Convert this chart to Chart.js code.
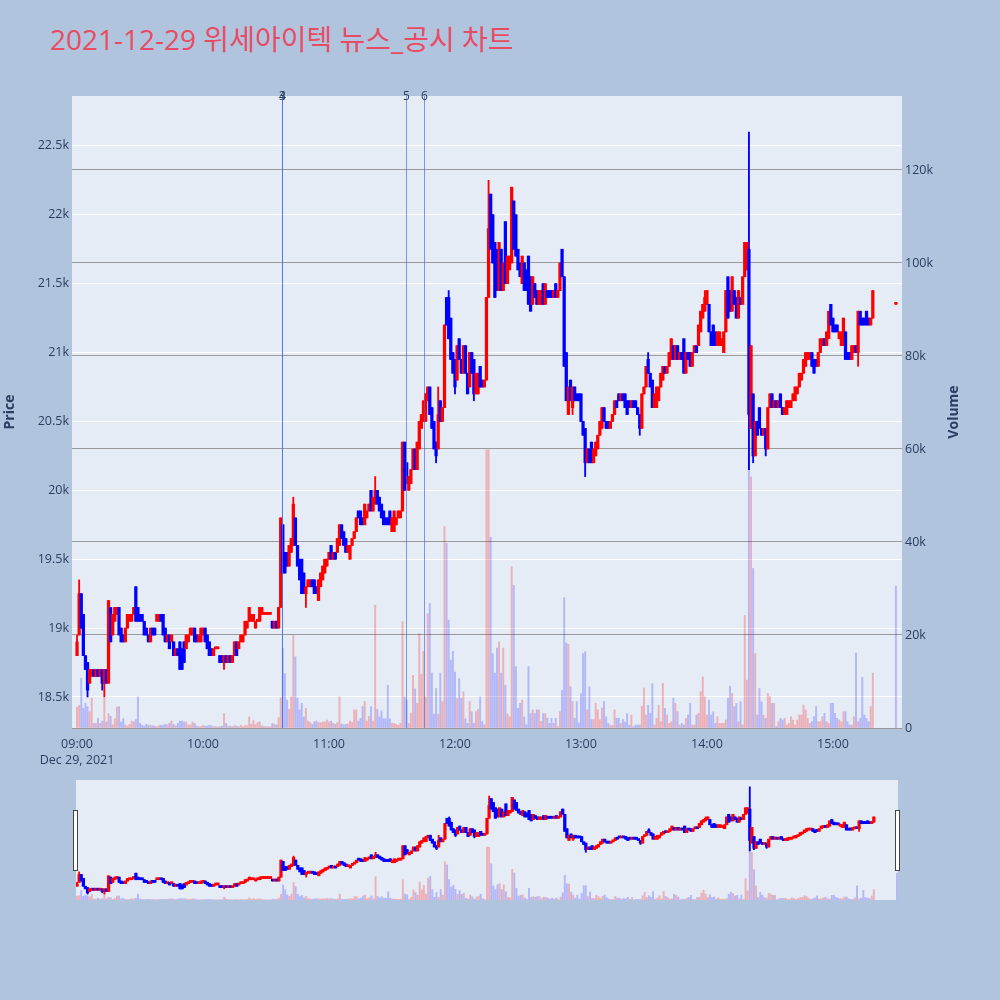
<!DOCTYPE html>
<html>
<head>
<meta charset="utf-8">
<script src="https://cdn.jsdelivr.net/npm/chart.js@4.4.0/dist/chart.umd.min.js"></script>
<style>
  body { margin: 0; width: 1000px; height: 1000px; background: #b0c4de; position: relative; overflow: hidden; }
  #title { position: absolute; left: 50px; top: 20px; line-height: 38px; font-size: 28px; color: #e84c64;
           font-family: "Open Sans", "Noto Sans CJK KR", sans-serif; white-space: nowrap; }
  #main { position: absolute; left: 0; top: 0; }
  #slider { position: absolute; left: 76px; top: 780px; }
  .handle { position: absolute; top: 810px; width: 3px; height: 59px; background: #fff; border: 1px solid #444; }
</style>
</head>
<body>
<div id="title">2021-12-29 위세아이텍 뉴스_공시 차트</div>
<canvas id="main" width="1000" height="770"></canvas>
<canvas id="slider" width="822" height="120"></canvas>
<div class="handle" style="left:73px"></div>
<div class="handle" style="left:895px"></div>
<script>
// axis ticks (x in minutes after 09:00)
const tickMinutes = [0, 60, 120, 180, 240, 300, 360];
const tickLabels = [['09:00', 'Dec 29, 2021'], '10:00', '11:00', '12:00', '13:00', '14:00', '15:00'];
const priceTicks = [18500, 19000, 19500, 20000, 20500, 21000, 21500, 22000, 22500];
const priceTickLabels = ['18.5k', '19k', '19.5k', '20k', '20.5k', '21k', '21.5k', '22k', '22.5k'];
const volumeTicks = [0, 20000, 40000, 60000, 80000, 100000, 120000];
const volumeTickLabels = ['0', '20k', '40k', '60k', '80k', '100k', '120k'];

// news / disclosure markers
const newsMinutes = [97.6, 97.6, 156.7, 165.2];
const newsLabels = ['3', '4', '5', '6'];

// 1-minute bars, index = minutes after 09:00 (09:00 .. 15:19)
const opens = [
  18800,18950,19250,19100,18800,18750,18600,18650,18700,18650,
  18700,18650,18700,18600,18700,18600,19150,18950,19050,19100,
  19150,19000,18950,18900,19000,19050,19050,19100,19300,19150,
  19100,19100,19050,19000,18950,18900,19000,19000,19050,19050,
  19100,19100,19000,18900,18950,18900,18900,18800,18850,18900,
  18850,18900,18850,18900,18950,18950,19000,18950,18900,18900,
  18950,19000,18950,18900,18850,18800,18850,18850,18800,18800,
  18750,18800,18750,18800,18750,18800,18900,18850,18900,18900,
  18950,19000,19050,19050,19050,19000,19050,19050,19100,19100,
  19100,19100,19100,19050,19000,19050,19000,19150,19750,19550,
  19550,19450,19550,19600,19800,19600,19500,19500,19400,19250,
  19300,19300,19350,19350,19300,19200,19300,19350,19400,19450,
  19500,19600,19500,19550,19550,19600,19750,19700,19650,19550,
  19500,19600,19650,19700,19850,19850,19800,19750,19800,19850,
  20000,19850,19900,20000,19950,19900,19850,19800,19800,19850,
  19700,19700,19750,19800,19800,19850,20350,20200,20000,20050,
  20150,20300,20150,20300,20450,20500,20500,20650,20750,20600,
  20500,20350,20300,20650,20500,20600,21400,21400,21250,21000,
  20950,20800,21100,20950,20850,21050,20850,20750,21000,20950,
  20700,20700,20900,20800,20750,20800,21400,22150,22000,21800,
  21750,21450,21750,21450,21950,21500,21600,21650,22100,22000,
  21750,21650,21500,21650,21600,21700,21550,21350,21500,21450,
  21350,21350,21500,21350,21450,21450,21450,21400,21500,21400,
  21450,21750,21550,21000,20550,20800,20600,20750,20700,20700,
  20700,20500,20450,20200,20300,20350,20200,20250,20300,20400,
  20450,20600,20500,20500,20450,20500,20550,20650,20700,20650,
  20700,20700,20650,20650,20600,20650,20650,20600,20550,20450,
  20700,20750,20950,20850,20800,20600,20600,20650,20750,20800,
  20900,20850,20900,20950,21050,20950,21050,20950,21000,21100,
  20850,21000,21000,20900,21000,21050,21050,21150,21250,21300,
  21350,21350,21150,21200,21150,21050,21050,21050,21000,21150,
  21550,21450,21300,21450,21400,21250,21400,21350,21550,21600,
  21750,20450,20700,20250,20500,20600,20450,20400,20450,20300,
  20600,20700,20600,20650,20600,20700,20600,20550,20550,20600,
  20600,20650,20650,20700,20750,20800,20850,20900,20950,20950,
  21000,20950,20950,20900,21000,21050,21100,21050,21100,21350,
  21250,21200,21200,21100,21050,21050,21150,21000,21000,20950,
  21000,21050,21000,21300,21250,21250,21300,21250,21200,21250
];
const closes = [
  18900,19250,19000,18800,18700,18550,18700,18700,18650,18700,
  18650,18700,18600,18700,18600,19200,18900,19100,19150,19150,
  18950,18900,18900,19000,19100,19100,19100,19150,19050,19050,
  19050,19050,18950,18950,18900,19000,18950,18950,19100,19100,
  19050,18950,18900,18950,18850,18950,18800,18850,18800,18700,
  18700,18750,18950,18950,19000,19000,18900,18900,18950,19000,
  19000,18900,18850,18800,18800,18850,18850,18850,18750,18750,
  18800,18750,18800,18750,18800,18900,18800,18900,18950,18950,
  19050,19050,19150,19100,19100,19050,19050,19150,19150,19100,
  19100,19100,19100,19000,19050,19000,19150,19800,19400,19400,
  19450,19600,19650,19900,19600,19450,19350,19250,19250,19300,
  19350,19350,19300,19250,19250,19350,19400,19450,19500,19500,
  19550,19500,19550,19500,19650,19750,19650,19600,19550,19600,
  19600,19650,19700,19800,19800,19750,19750,19900,19850,19900,
  19850,19950,20000,19900,19850,19800,19750,19750,19750,19750,
  19800,19850,19800,19850,19850,20350,20000,20050,20100,20150,
  20300,20150,20350,20500,20550,20650,20700,20750,20550,20450,
  20300,20250,20550,20500,20600,21200,21200,21100,20950,20850,
  20750,21050,20950,20850,21050,20850,20700,21000,20850,20700,
  20850,20850,20750,20750,20800,21400,21900,21750,21650,21400,
  21450,21800,21450,21650,21500,21700,21700,22200,21750,21700,
  21600,21550,21700,21450,21450,21350,21300,21550,21400,21350,
  21450,21450,21350,21500,21400,21400,21400,21450,21400,21450,
  21650,21550,20900,20650,20750,20650,20750,20650,20650,20650,
  20500,20400,20200,20300,20200,20200,20300,20350,20400,20500,
  20600,20500,20450,20450,20500,20550,20650,20600,20650,20700,
  20650,20600,20550,20600,20650,20600,20600,20550,20450,20700,
  20750,20900,20850,20750,20600,20700,20750,20750,20850,20900,
  20850,20900,21000,21100,20950,21050,20950,21000,20950,20850,
  21000,20950,20900,21000,21050,21000,21200,21300,21350,21400,
  21450,21150,21050,21050,21050,21150,21150,21100,21150,21450,
  21250,21300,21550,21350,21250,21450,21350,21550,21800,21800,
  20550,21050,20250,20500,20400,20450,20400,20450,20300,20600,
  20700,20600,20650,20600,20650,20600,20550,20600,20650,20650,
  20650,20700,20750,20750,20850,20850,20950,21000,21000,21000,
  20900,20850,20900,21000,21100,21100,21050,21150,21300,21200,
  21150,21150,21150,21150,21150,21250,20950,20950,20950,21050,
  21050,21000,21300,21200,21200,21200,21200,21200,21250,21450
];
const volumes = [
  4500,4900,10700,4200,5300,4600,3500,6400,1000,1000,
  2100,1000,1500,6400,1300,3100,2500,700,2000,4500,
  4600,1300,2000,700,400,800,1500,1300,1800,6700,
  1000,600,400,800,600,600,500,400,300,500,
  600,600,800,700,1000,1500,800,500,1000,1500,
  1500,1300,1300,600,700,1300,1000,400,300,300,
  500,400,400,600,500,300,300,200,300,400,
  3100,1000,400,400,300,500,400,300,600,300,
  500,500,2400,800,1600,700,1200,1300,500,300,
  300,300,300,1000,800,700,2200,6500,17100,11700,
  6000,4000,6700,19900,15300,6400,3900,5300,2400,4200,
  1500,1200,800,1300,1500,1200,1100,1300,1300,1700,
  1300,1500,1000,800,1200,6700,900,700,800,900,
  1500,1200,3900,3900,1500,2100,4600,5700,1500,2500,
  4600,1500,26400,4000,2400,3700,2000,2000,9200,2000,
  1000,1000,800,600,1000,22900,6700,6000,1000,3200,
  11300,8400,5300,20300,11500,16500,6700,24600,26800,11800,
  3000,8500,3000,11800,5700,43300,39700,23200,14600,16500,
  12000,6400,10600,6400,7800,2000,1000,5700,3500,1000,
  3500,4000,6700,1400,700,59800,59800,41000,16000,11800,
  17200,18500,11800,17200,9200,3000,2400,34700,30700,13200,
  4200,5300,6000,2400,700,13200,3100,3900,3100,3900,
  3900,1400,3100,3100,2100,1000,2100,1000,2100,300,
  3500,8100,28000,18300,18000,8900,5700,2100,5700,1100,
  7400,16000,16400,3900,8900,1800,1800,5300,3900,1800,
  4300,5700,2400,1000,600,600,3900,2100,2100,1000,
  1800,1300,3100,600,2800,300,650,650,650,4700,
  8600,2800,4900,3150,9500,650,2080,4900,1360,9600,
  4200,2800,1000,1360,6400,5300,3500,650,1000,650,
  2080,2800,5300,650,650,2800,3150,7800,11000,6700,
  2800,6000,2800,3500,1000,2440,1000,1000,1000,1720,
  6400,9000,7450,4600,5300,1360,5660,650,24200,10300,
  62000,54000,34300,16000,2800,8500,5660,2800,2080,7450,
  6740,5300,5300,290,1360,2080,1720,2080,645,1000,
  2440,1720,645,1720,2800,2800,4900,3870,2080,1000,
  1360,2440,4600,1360,1360,2440,3150,1360,1000,5300,
  5300,3150,2080,1720,1360,3510,3510,1360,645,645,
  2440,16100,1360,2080,10900,2800,2080,1360,4600,11800
];
// wicks that reach beyond the body (minute -> price)
const wickHighs = { 0: 18950, 1: 19350, 28: 19300, 103: 19950, 142: 20100, 172: 20750, 177: 21450,
                    196: 22250, 207: 22200, 231: 21750, 272: 21000, 299: 21450, 320: 22600 };
const wickLows = { 5: 18500, 12: 18550, 13: 18500, 70: 18700, 109: 19150, 171: 20200, 180: 20700,
                   189: 20650, 236: 20550, 242: 20100, 268: 20400, 320: 20150, 322: 20200, 328: 20250, 372: 20900 };
// closing auction at 15:30
const auctionMinute = 390;
const auctionPrice = 21350;
const auctionVolume = 30500;

const UP = '#ff0000', DOWN = '#0000ff';
const UP_VOL = 'rgba(255,0,0,0.25)', DOWN_VOL = 'rgba(0,0,255,0.22)';

const bars = opens.map((o, i) => ({ m: i, o: o, c: closes[i], v: volumes[i] }));
bars.push({ m: auctionMinute, o: auctionPrice, c: auctionPrice, v: auctionVolume });

function buildDatasets() {
  const body = [], wick = [], vol = [], bodyCol = [], volCol = [];
  bars.forEach((b, i) => {
    const prev = i > 0 ? bars[i - 1].c : b.o;
    const hi = Math.max(b.o, b.c, wickHighs[b.m] || 0);
    const lo = Math.min(b.o, b.c, wickLows[b.m] || Infinity);
    body.push({ x: b.m, y: [b.o, b.c] });
    wick.push({ x: b.m, y: [lo, hi] });
    vol.push({ x: b.m, y: b.v });
    bodyCol.push(b.c >= b.o ? UP : DOWN);
    const volUp = b.c !== b.o ? b.c > b.o : b.c >= prev;
    volCol.push(volUp ? UP_VOL : DOWN_VOL);
  });
  return [
    { data: vol, yAxisID: 'y2', backgroundColor: volCol, barThickness: 1.3, grouped: false, order: 3 },
    { data: wick, yAxisID: 'y', backgroundColor: bodyCol, barThickness: 1.2, grouped: false, order: 2 },
    { data: body, yAxisID: 'y', backgroundColor: bodyCol, barThickness: 2.6, minBarLength: 2, grouped: false, order: 1 }
  ];
}

const FONT = '"Open Sans", "Noto Sans", sans-serif';
const INK = '#2a3f5f';

const plotBg = {
  id: 'plotBg',
  beforeDraw(chart) {
    const { ctx, chartArea: a } = chart;
    ctx.save();
    ctx.fillStyle = '#e5ecf6';
    ctx.fillRect(a.left, a.top, a.right - a.left, a.bottom - a.top);
    ctx.restore();
  }
};

const newsLines = {
  id: 'newsLines',
  afterDatasetsDraw(chart) {
    const { ctx, chartArea: a, scales: { x } } = chart;
    ctx.save();
    ctx.font = '12px ' + FONT;
    ctx.textAlign = 'center';
    ctx.textBaseline = 'middle';
    newsMinutes.forEach((m, i) => {
      const px = Math.round(x.getPixelForValue(m)) + 0.5;
      ctx.strokeStyle = 'rgba(65,105,225,0.65)';
      ctx.lineWidth = 1;
      ctx.beginPath();
      ctx.moveTo(px, a.top);
      ctx.lineTo(px, a.bottom);
      ctx.stroke();
      ctx.fillStyle = INK;
      ctx.fillText(newsLabels[i], px, a.top + 1);
    });
    ctx.restore();
  }
};

const axisTitles = {
  id: 'axisTitles',
  afterDraw(chart) {
    const { ctx, chartArea: a } = chart;
    const cy = (a.top + a.bottom) / 2;
    ctx.save();
    ctx.fillStyle = INK;
    ctx.font = 'bold 14px ' + FONT;
    ctx.textAlign = 'center';
    ctx.textBaseline = 'middle';
    [['Price', 10], ['Volume', 954]].forEach(([t, px]) => {
      ctx.save();
      ctx.translate(px, cy);
      ctx.rotate(-Math.PI / 2);
      ctx.fillText(t, 0, 0);
      ctx.restore();
    });
    ctx.restore();
  }
};

const priceMin = 18275, priceMax = 22862;
const volMax = 135900;
const tickFont = { family: FONT, size: 12.5 };

new Chart(document.getElementById('main'), {
  type: 'bar',
  data: { datasets: buildDatasets() },
  options: {
    responsive: false,
    animation: false,
    layout: { padding: { top: 96, left: 0, right: 0, bottom: 0 } },
    plugins: { legend: { display: false }, tooltip: { enabled: false } },
    scales: {
      x: {
        type: 'linear', min: -2.4, max: 392.9, offset: false,
        grid: { display: false }, border: { display: false },
        afterBuildTicks: s => { s.ticks = tickMinutes.map(v => ({ value: v })); },
        afterFit: s => { s.height = 42; },
        ticks: { autoSkip: false, maxRotation: 0, padding: 0, color: INK, font: { family: FONT, size: 12.5, lineHeight: 1.3 },
                 callback: (v, i) => tickLabels[i] }
      },
      y: {
        position: 'left', min: priceMin, max: priceMax,
        grid: { color: '#ffffff', lineWidth: 1, drawTicks: false }, border: { display: false },
        afterBuildTicks: s => { s.ticks = priceTicks.map(v => ({ value: v })); },
        afterFit: s => { s.width = 72; },
        ticks: { padding: 3, color: INK, font: tickFont, callback: (v, i) => priceTickLabels[i] }
      },
      y2: {
        position: 'right', min: 0, max: volMax,
        grid: { color: '#9a9a9a', lineWidth: 1, drawTicks: false }, border: { display: false },
        afterBuildTicks: s => { s.ticks = volumeTicks.map(v => ({ value: v })); },
        afterFit: s => { s.width = 98; },
        ticks: { padding: 3, color: INK, font: tickFont, callback: (v, i) => volumeTickLabels[i] }
      }
    }
  },
  plugins: [plotBg, newsLines, axisTitles]
});

// range slider overview
new Chart(document.getElementById('slider'), {
  type: 'bar',
  data: { datasets: buildDatasets() },
  options: {
    responsive: false,
    animation: false,
    layout: { padding: 0 },
    plugins: { legend: { display: false }, tooltip: { enabled: false } },
    scales: {
      x: { type: 'linear', min: -0.5, max: 390.5, offset: false, display: false },
      y: { min: priceMin, max: priceMax, display: false },
      y2: { min: 0, max: volMax, display: false }
    }
  },
  plugins: [plotBg]
});
</script>
</body>
</html>
